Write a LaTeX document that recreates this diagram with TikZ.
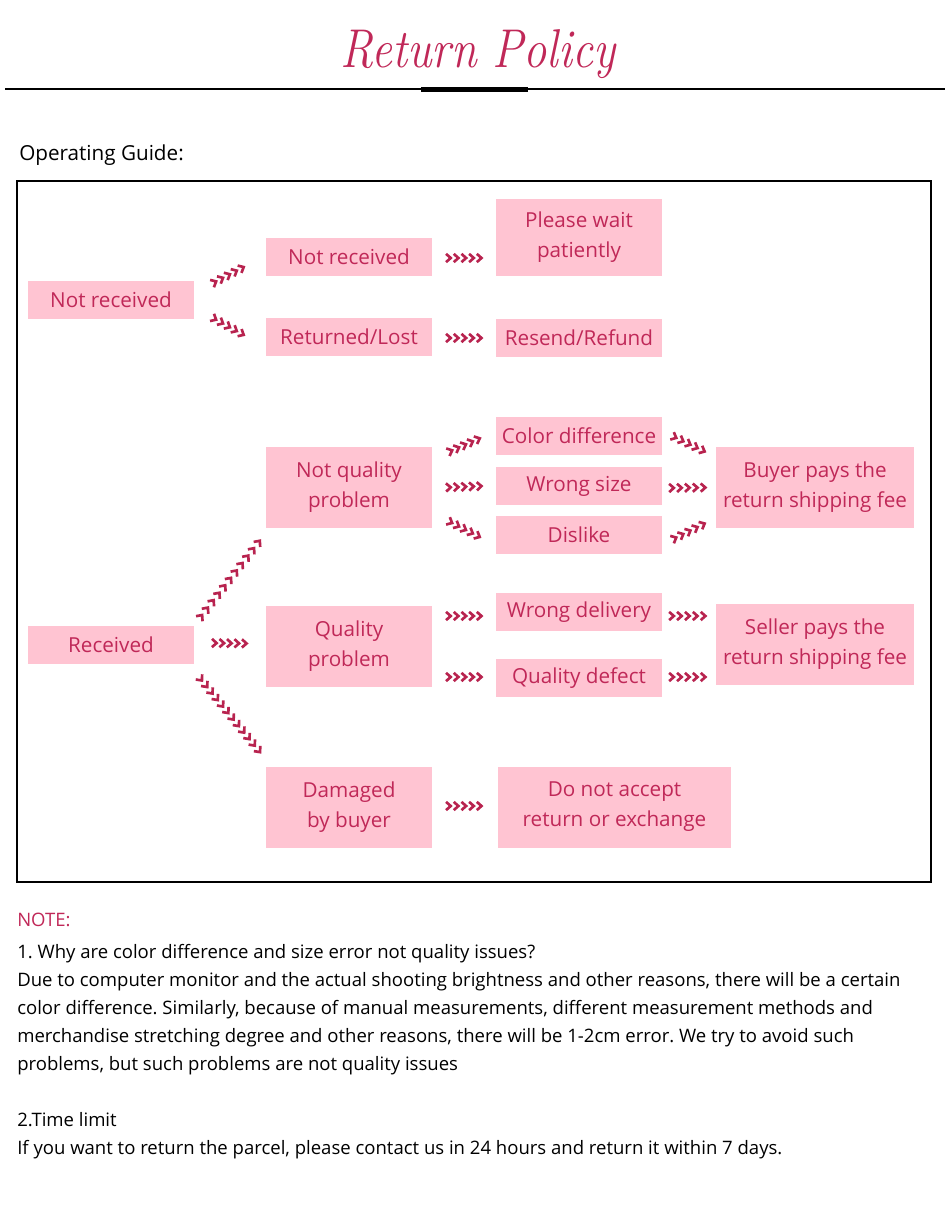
\documentclass[tikz,border=0pt]{standalone}
\usepackage{fontspec}
\newfontfamily\guide{Open Sans}
\usetikzlibrary{calc,decorations.markings}

\definecolor{boxpink}{HTML}{FFC4D2}
\definecolor{boxred}{HTML}{C02858}
\definecolor{chevred}{HTML}{B8234F}

\tikzset{
  box/.style={fill=boxpink, text=boxred, inner sep=0pt, align=center,
    minimum width=124.5pt, minimum height=28.5pt, font=\guide\fontsize{15.5}{22.5}\selectfont},
  tallbox/.style={box, minimum height=60.75pt},
  chev/.style={decoration={markings,
      mark=between positions 0.5/#1 and 1 step 1/#1 with
        {\draw[chevred, line width=2pt] (-2.3pt,3.1pt) -- (1.2pt,0pt) -- (-2.3pt,-3.1pt);}},
    postaction=decorate},
  notetext/.style={anchor=base west, inner sep=0pt, font=\guide\fontsize{13.9}{21}\selectfont}
}

\begin{document}
\frenchspacing
\begin{tikzpicture}[x=0.75pt, y=-0.75pt]
  \useasboundingbox (0,0) rectangle (950,1206);

  % heading
  \node[text=boxred, font=\fontsize{41}{41}\selectfont\itshape, xscale=0.85, transform shape] (title) at (478,54) {Return Policy};
  \draw[line width=0.9pt] (5,89) -- (945,89);
  \fill (421,87) rectangle (528,92);
  \node[anchor=west, inner sep=0pt, font=\guide\fontsize{15.5}{18}\selectfont] (guide) at (19,155) {Operating Guide:};
  \draw[line width=0.8pt] (17,181) rectangle (931,882);

  % boxes
  \foreach \n/\x/\y/\t in {nrA/111/300/Not received, nrB/349/257/Not received,
      rl/349/337/Returned\slash Lost, resend/579/338/Resend\slash Refund,
      cd/579/435.5/Color difference, ws/579/486/Wrong size, dl/579/535/Dislike,
      wd/579/612/Wrong delivery, qd/579/678/Quality defect, rcv/111/645/Received}
    \node[box] (\n) at (\x,\y) {\t};
  \node[box, minimum height=57.75pt] (wait) at (579,237.5) {Please wait\\patiently};
  \node[tallbox] (nq) at (349,487.5) {Not quality\\problem};
  \node[tallbox] (qp) at (349,646.5) {Quality\\problem};
  \node[tallbox] (dmg) at (349,807) {Damaged\\by buyer};
  \node[tallbox, minimum width=148.5pt] (buyer) at (815,487.5) {Buyer pays the\\return shipping fee};
  \node[tallbox, minimum width=148.5pt] (seller) at (815,644.5) {Seller pays the\\return shipping fee};
  \node[tallbox, minimum width=174.75pt] (noacc) at (614.5,807) {Do not accept\\return or exchange};

  % chevron connectors
  \path[chev=5] ($(nrA.east)+(17,-16)$) -- ($(nrB.west)+(-20,9)$);
  \path[chev=5] ($(nrA.east)+(17,17)$) -- ($(rl.west)+(-20,-1)$);
  \path[chev=5] ($(nrB.east)+(13,1)$) -- ($(nrB.east -| wait.west)+(-12,1)$);
  \path[chev=5] ($(rl.east)+(13,1)$) -- ($(resend.west)+(-12,0)$);
  \path[chev=5] ($(nq.east)+(15,-35)$) -- ($(cd.west)+(-14,2)$);
  \path[chev=5] ($(nq.east)+(13,0)$) -- ($(ws.west)+(-12,0)$);
  \path[chev=5] ($(nq.east)+(15,33)$) -- ($(dl.west)+(-14,3)$);
  \path[chev=5] ($(cd.east)+(9,0)$) -- ($(buyer.west)+(-9,-35)$);
  \path[chev=5] ($(ws.east)+(6,2)$) -- ($(buyer.west)+(-8,0)$);
  \path[chev=5] ($(dl.east)+(9,5)$) -- ($(buyer.west)+(-9,35)$);
  \path[chev=11] ($(rcv.east)+(4,-25)$) -- ($(nq.south west)+(-4,10)$);
  \path[chev=5] ($(rcv.east)+(17,-2)$) -- ($(qp.west)+(-17,-3)$);
  \path[chev=12] ($(rcv.east)+(4,31)$) -- ($(dmg.north west)+(-4,-12)$);
  \path[chev=5] ($(qp.east)+(13,-30.5)$) -- ($(wd.west)+(-12,4)$);
  \path[chev=5] ($(qp.east)+(13,30.5)$) -- ($(qd.west)+(-12,-1)$);
  \path[chev=5] ($(wd.east)+(6,4)$) -- ($(seller.west)+(-8,-28.5)$);
  \path[chev=5] ($(qd.east)+(6,-1)$) -- ($(seller.west)+(-8,32.5)$);
  \path[chev=5] ($(dmg.east)+(13,-1)$) -- ($(noacc.west)+(-14,-1)$);

  % notes
  \node[notetext, text=boxred] (note) at (17,926) {NOTE:};
  \foreach \y/\t in {958/{1. Why are color difference and size error not quality issues?},
      986/{Due to computer monitor and the actual shooting brightness and other reasons, there will be a certain},
      1014/{color difference. Similarly, because of manual measurements, different measurement methods and},
      1042/{merchandise stretching degree and other reasons, there will be 1-2cm error. We try to avoid such},
      1070/{problems, but such problems are not quality issues},
      1126/{2.Time limit},
      1154/{If you want to return the parcel, please contact us in 24 hours and return it within 7 days.}}
    \node[notetext] (line\y) at (17,\y) {\t};
\end{tikzpicture}
\end{document}
